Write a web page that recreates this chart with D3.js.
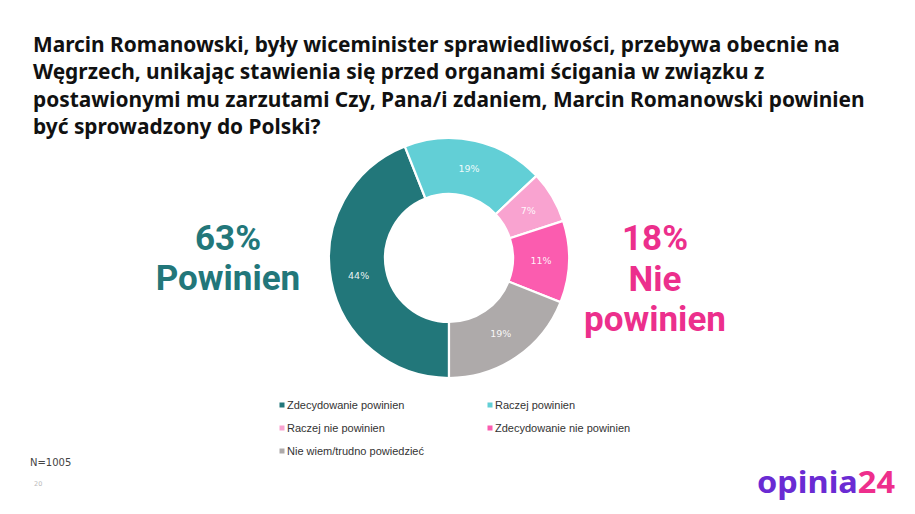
<!DOCTYPE html>
<html><head><meta charset="utf-8">
<script src="https://cdn.jsdelivr.net/npm/d3@7"></script>
<style>body{margin:0;background:#fff}svg{display:block}</style>
</head><body>
<svg id="c" width="915" height="514"></svg>
<script>
const categories = ["Zdecydowanie powinien","Raczej powinien","Raczej nie powinien","Zdecydowanie nie powinien","Nie wiem/trudno powiedzieć"];
const values = [44, 19, 7, 11, 19];
const colors = ["#22777A","#62CFD6","#F9A3D0","#FB5CAF","#AEAAAA"];
const titleLines = ["Marcin Romanowski, były wiceminister sprawiedliwości, przebywa obecnie na",
 "Węgrzech, unikając stawienia się przed organami ścigania w związku z",
 "postawionymi mu zarzutami Czy, Pana/i zdaniem, Marcin Romanowski powinien",
 "być sprowadzony do Polski?"];
const leftLabel = ["63%","Powinien"];
const rightLabel = ["18%","Nie","powinien"];

const svg = d3.select("#c");

// title
const titleFont = "'Noto Sans', sans-serif";
const tl = svg.append("g").selectAll("text").data(titleLines).join("text")
  .attr("x",33).attr("y",(d,i)=>52+i*27.3)
  .attr("font-family",titleFont).attr("font-weight",700).attr("font-size",20)
  .attr("fill","#111").text(d=>d);
const w3 = tl.nodes()[2].getComputedTextLength();
tl.attr("font-size",20*832/w3);

// donut
const cx=449, cy=258, rO=120, rI=64;
const pie = d3.pie().sort(null).value(d=>d).startAngle(Math.PI).endAngle(3*Math.PI);
const arcs = pie(values);
const arc = d3.arc().innerRadius(rI).outerRadius(rO);
const lab = d3.arc().innerRadius((rI+rO)/2).outerRadius((rI+rO)/2);
const g = svg.append("g").attr("transform",`translate(${cx},${cy})`);
g.selectAll("path").data(arcs).join("path")
  .attr("d",arc).attr("fill",(d,i)=>colors[i])
  .attr("stroke","#fff").attr("stroke-width",2.2);
g.selectAll("text").data(arcs).join("text")
  .attr("transform",d=>`translate(${lab.centroid(d)})`)
  .attr("text-anchor","middle").attr("dy","0.35em")
  .attr("font-family","'DejaVu Sans', sans-serif").attr("font-size",9.5)
  .attr("fill","#fff").attr("fill-opacity",0.92)
  .text(d=>d.data+"%");

// big labels
const bigFont = "Roboto, sans-serif";
const L = svg.append("g").selectAll("text").data(leftLabel).join("text")
  .attr("x",228).attr("y",(d,i)=>250+i*39.5)
  .attr("text-anchor","middle").attr("font-family",bigFont).attr("font-weight",700)
  .attr("font-size",34).attr("fill","#22777A").text(d=>d);
const R = svg.append("g").selectAll("text").data(rightLabel).join("text")
  .attr("x",655).attr("y",(d,i)=>250+i*40.5)
  .attr("text-anchor","middle").attr("font-family",bigFont).attr("font-weight",700)
  .attr("font-size",34).attr("fill","#EC2F8C").text(d=>d);
const fsL = Math.min(34*153/L.nodes()[1].getComputedTextLength(), 35);
L.attr("font-size",fsL); R.attr("font-size",fsL);

// legend
const lg = svg.append("g");
const pos = [[282,405],[490,405],[282,428],[490,428],[282,451]];
categories.forEach((c,i)=>{
  const [x,y]=pos[i];
  lg.append("rect").attr("x",x-2.5).attr("y",y-2.5).attr("width",5).attr("height",5).attr("fill",colors[i]);
  lg.append("text").attr("x",x+5).attr("y",y).attr("dy","0.35em")
    .attr("font-family","'Liberation Sans', Arial, sans-serif").attr("font-size",11)
    .attr("fill","#333").text(c);
});

// footnotes
svg.append("text").attr("x",30).attr("y",466).attr("font-family","'DejaVu Sans', sans-serif")
  .attr("font-size",10).attr("fill","#444").text("N=1005");
svg.append("text").attr("x",34).attr("y",486).attr("font-family","'DejaVu Sans', sans-serif")
  .attr("font-size",6.5).attr("fill","#bbb").text("20");

// logo
const logo = svg.append("text").attr("x",757).attr("y",493)
  .attr("font-family","'Noto Sans', sans-serif").attr("font-weight",700).attr("font-size",31);
logo.append("tspan").attr("fill","#6A2BD3").text("opinia");
logo.append("tspan").attr("fill","#EE2F8C").text("24");
logo.attr("textLength",138).attr("lengthAdjust","spacingAndGlyphs");
</script>
</body></html>
